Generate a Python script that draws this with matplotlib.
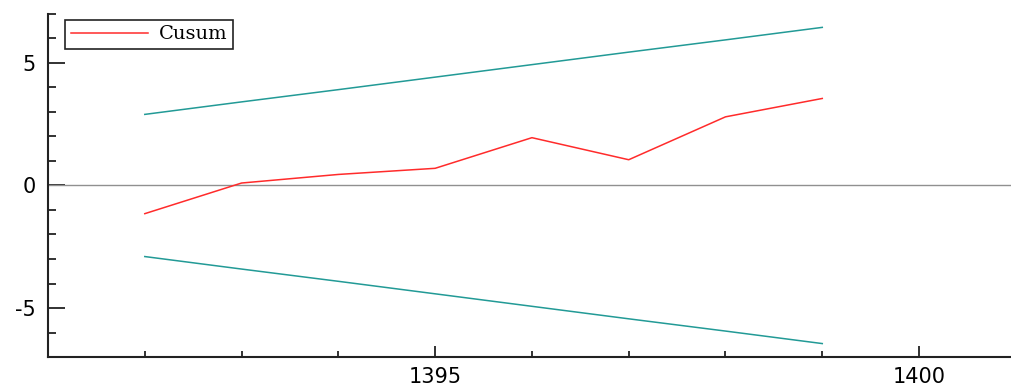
import numpy as np
import matplotlib
matplotlib.use("Agg")
import matplotlib.pyplot as plt
from matplotlib.ticker import MultipleLocator

plt.rcParams["axes.unicode_minus"] = False

# data
years = [1392, 1393, 1394, 1395, 1396, 1397, 1398, 1399]
cusum = [-1.15, 0.1, 0.45, 0.7, 1.95, 1.05, 2.8, 3.55]
upper = [2.9, 3.41, 3.91, 4.42, 4.93, 5.44, 5.94, 6.45]
lower = [-2.9, -3.41, -3.91, -4.42, -4.93, -5.44, -5.94, -6.45]

fig = plt.figure(figsize=(10.11, 3.86), dpi=100)
ax = fig.add_axes([0.0475, 0.075, 0.9525, 0.889])

ax.axhline(0, color="#909090", linewidth=1)
ax.plot(years, cusum, color="#ff2b2b", linewidth=1.1, label="Cusum")
ax.plot(years, upper, color="#229a96", linewidth=1.1)
ax.plot(years, lower, color="#229a96", linewidth=1.1)

ax.set_xlim(1391, 1400.95)
ax.set_ylim(-7, 7)

ax.xaxis.set_major_locator(MultipleLocator(5))
ax.xaxis.set_minor_locator(MultipleLocator(1))
ax.yaxis.set_major_locator(MultipleLocator(5))
ax.yaxis.set_minor_locator(MultipleLocator(1))
ax.tick_params(which="both", direction="in", width=1.3, color="#222222", labelsize=15)
ax.tick_params(axis="y", which="major", length=12, pad=9)
ax.tick_params(axis="y", which="minor", length=6)
ax.tick_params(axis="x", which="major", length=8, pad=7)
ax.tick_params(axis="x", which="minor", length=4.5)

for s in ["top", "right"]:
    ax.spines[s].set_visible(False)
for s in ["left", "bottom"]:
    ax.spines[s].set_linewidth(1.5)
    ax.spines[s].set_color("#222222")

leg = ax.legend(loc="upper left", bbox_to_anchor=(0.0177, 0.9825), fancybox=False,
                prop={"family": "DejaVu Serif", "size": 14}, handlelength=4.0,
                handletextpad=0.55, borderpad=0.28, borderaxespad=0, framealpha=1)
leg.get_frame().set_edgecolor("#222222")
leg.get_frame().set_linewidth(1.2)

fig.savefig("out.png", dpi=100)
